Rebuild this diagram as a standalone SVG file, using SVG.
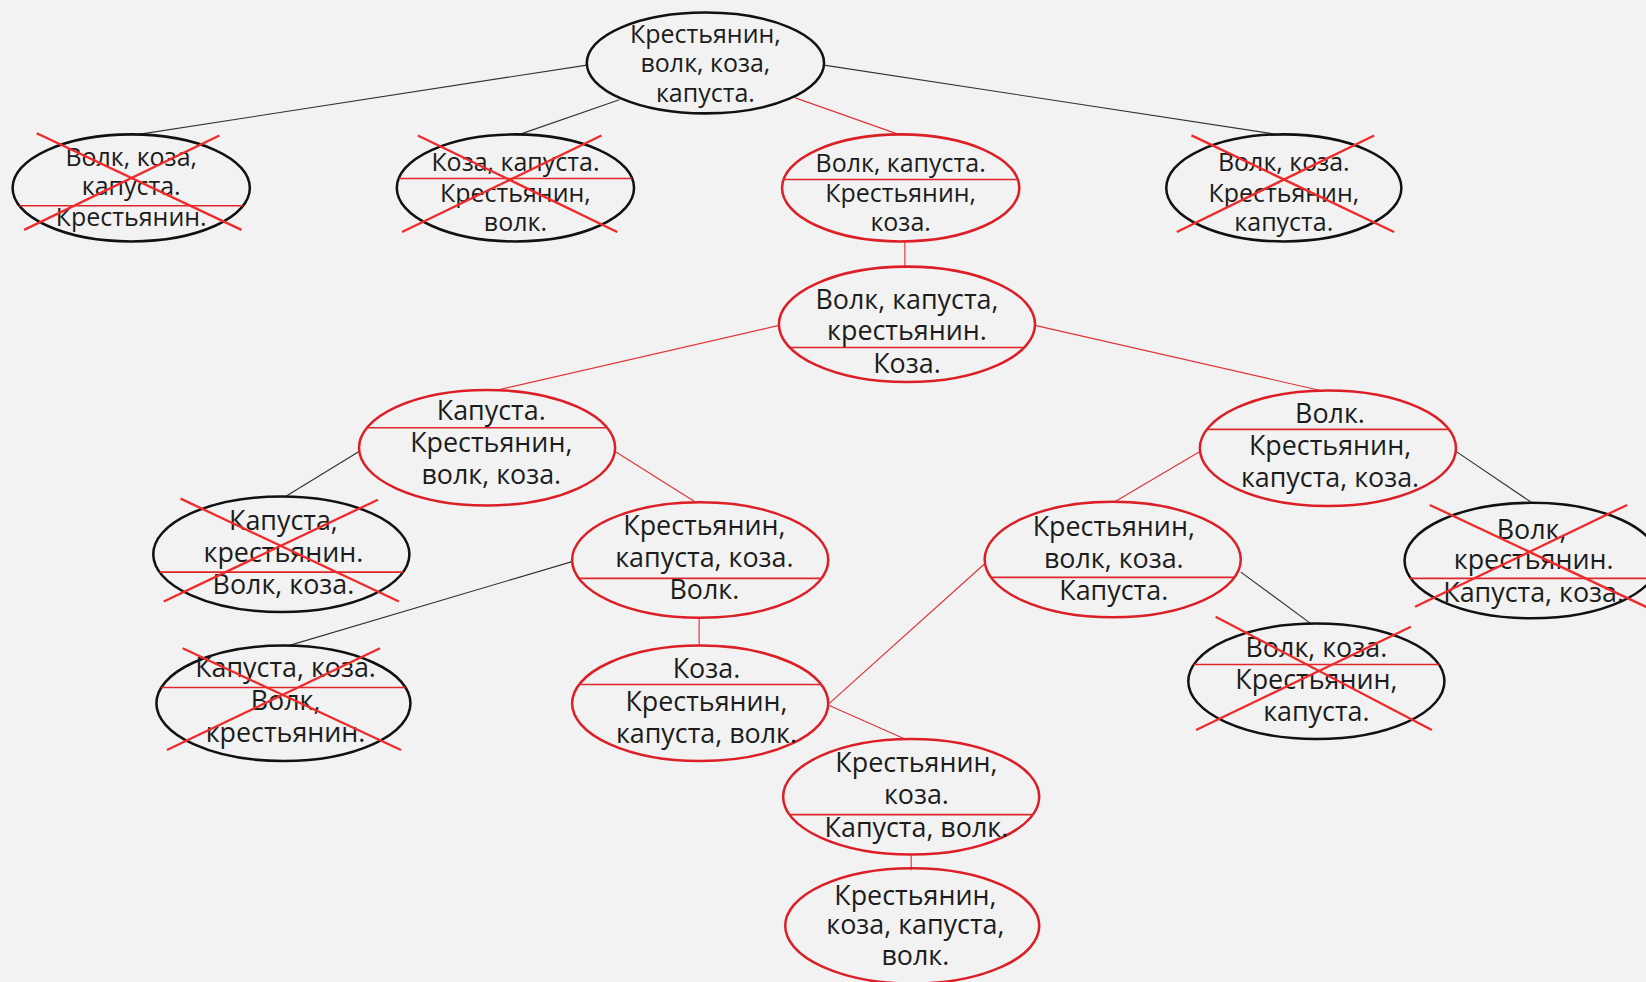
<svg xmlns="http://www.w3.org/2000/svg" width="1646" height="982" viewBox="0 0 1646 982">
<style>
.bg{fill:#f2f2f2}
.nb{fill:none;stroke:#111;stroke-width:2.4}
.nr{fill:none;stroke:#dc1f26;stroke-width:2.4}
.dv{stroke:#e0262b;stroke-width:1.5}
.x{stroke:#f02a2a;stroke-width:2.2}
.eb{stroke:#333;stroke-width:1.1;fill:none}
.er{stroke:#e0343a;stroke-width:1.1;fill:none}
text{font-family:"Open Sans","Noto Sans","DejaVu Sans",sans-serif;fill:#1c1c1c;text-anchor:middle}
.s{font-size:23.8px}
.m{font-size:25.6px}
</style>
<rect class="bg" x="0" y="0" width="1646" height="982"/>
<g transform="scale(1.04974)">
<g id="connectors">
<line class="eb" x1="559" y1="62" x2="132" y2="128"/>
<line class="eb" x1="590" y1="95" x2="495" y2="128"/>
<line class="er" x1="757" y1="93" x2="856" y2="128"/>
<line class="eb" x1="785" y1="62" x2="1216" y2="128"/>
<line class="er" x1="862" y1="230" x2="862" y2="254"/>
<line class="er" x1="742" y1="310" x2="472" y2="372"/>
<line class="er" x1="986" y1="310" x2="1258" y2="372"/>
<line class="eb" x1="342" y1="430" x2="272" y2="473"/>
<line class="er" x1="586" y1="430" x2="662" y2="478"/>
<line class="er" x1="1143" y1="430" x2="1062" y2="478"/>
<line class="eb" x1="1387" y1="430" x2="1458" y2="478"/>
<line class="eb" x1="545" y1="535" x2="275" y2="615"/>
<line class="er" x1="666" y1="588" x2="666" y2="615"/>
<line class="eb" x1="1182" y1="545" x2="1250" y2="595"/>
<line class="er" x1="938" y1="537" x2="790" y2="670"/>
<line class="er" x1="790" y1="672" x2="862" y2="704"/>
<line class="er" x1="868" y1="814" x2="868" y2="829"/>
</g>
<g id="root">
<ellipse class="nb" cx="672" cy="60" rx="113" ry="48"/>
<text class="s" x="672" y="41">Крестьянин,</text>
<text class="s" x="672" y="69">волк, коза,</text>
<text class="s" x="672" y="97">капуста.</text>
</g>
<g id="n-a">
<ellipse class="nb" cx="125" cy="179" rx="113" ry="51"/>
<line class="dv" x1="18.5" y1="196" x2="231.5" y2="196"/>
<text class="s" x="125" y="158">Волк, коза,</text>
<text class="s" x="125" y="186">капуста.</text>
<text class="s" x="125" y="215">Крестьянин.</text>
<line class="x" x1="35" y1="127" x2="230" y2="219"/>
<line class="x" x1="209" y1="129" x2="23" y2="219"/>
</g>
<g id="n-b">
<ellipse class="nb" cx="491" cy="179" rx="113" ry="51"/>
<line class="dv" x1="380" y1="170" x2="602" y2="170"/>
<text class="s" x="491" y="163">Коза, капуста.</text>
<text class="s" x="491" y="192">Крестьянин,</text>
<text class="s" x="491" y="220">волк.</text>
<line class="x" x1="398" y1="129" x2="588" y2="221"/>
<line class="x" x1="573" y1="129" x2="383" y2="221"/>
</g>
<g id="n-c">
<ellipse class="nr" cx="858" cy="179" rx="113" ry="51"/>
<line class="dv" x1="746.4" y1="171" x2="969.6" y2="171"/>
<text class="s" x="858" y="164">Волк, капуста.</text>
<text class="s" x="858" y="192">Крестьянин,</text>
<text class="s" x="858" y="220">коза.</text>
</g>
<g id="n-d">
<ellipse class="nb" cx="1223" cy="179" rx="112" ry="51"/>
<text class="s" x="1223" y="163">Волк, коза.</text>
<text class="s" x="1223" y="192">Крестьянин,</text>
<text class="s" x="1223" y="220">капуста.</text>
<line class="x" x1="1135" y1="129" x2="1328" y2="221"/>
<line class="x" x1="1309" y1="129" x2="1121" y2="221"/>
</g>
<g id="n-e">
<ellipse class="nr" cx="864" cy="309" rx="122" ry="55"/>
<line class="dv" x1="752" y1="331" x2="976" y2="331"/>
<text class="m" x="864" y="294">Волк, капуста,</text>
<text class="m" x="864" y="324">крестьянин.</text>
<text class="m" x="864" y="355">Коза.</text>
</g>
<g id="n-f">
<ellipse class="nr" cx="464" cy="426.5" rx="122" ry="55"/>
<line class="dv" x1="349.5" y1="407.5" x2="578.5" y2="407.5"/>
<text class="m" x="468" y="400">Капуста.</text>
<text class="m" x="468" y="431">Крестьянин,</text>
<text class="m" x="468" y="461">волк, коза.</text>
</g>
<g id="n-g">
<ellipse class="nr" cx="1265" cy="427" rx="122" ry="55"/>
<line class="dv" x1="1149.7" y1="409" x2="1380.3" y2="409"/>
<text class="m" x="1267" y="403">Волк.</text>
<text class="m" x="1267" y="433">Крестьянин,</text>
<text class="m" x="1267" y="464">капуста, коза.</text>
</g>
<g id="n-h">
<ellipse class="nb" cx="268" cy="528" rx="122" ry="55"/>
<line class="dv" x1="152" y1="545" x2="384" y2="545"/>
<text class="m" x="270" y="505">Капуста,</text>
<text class="m" x="270" y="535">крестьянин.</text>
<text class="m" x="270" y="566">Волк, коза.</text>
<line class="x" x1="172" y1="475" x2="380" y2="573"/>
<line class="x" x1="360" y1="476" x2="156" y2="573"/>
</g>
<g id="n-i">
<ellipse class="nr" cx="667" cy="533.5" rx="122" ry="55"/>
<line class="dv" x1="551" y1="551" x2="783" y2="551"/>
<text class="m" x="671" y="510">Крестьянин,</text>
<text class="m" x="671" y="540">капуста, коза.</text>
<text class="m" x="671" y="571">Волк.</text>
</g>
<g id="n-j">
<ellipse class="nr" cx="1060" cy="533" rx="122" ry="55"/>
<line class="dv" x1="944" y1="550" x2="1176" y2="550"/>
<text class="m" x="1061" y="511">Крестьянин,</text>
<text class="m" x="1061" y="541">волк, коза.</text>
<text class="m" x="1061" y="572">Капуста.</text>
</g>
<g id="n-k">
<ellipse class="nb" cx="1459" cy="534" rx="121" ry="55"/>
<line class="dv" x1="1343" y1="551" x2="1575" y2="551"/>
<text class="m" x="1459" y="513">Волк,</text>
<text class="m" x="1461" y="542">крестьянин.</text>
<text class="m" x="1461" y="573">Капуста, коза.</text>
<line class="x" x1="1362" y1="481" x2="1572" y2="580"/>
<line class="x" x1="1550" y1="481" x2="1348" y2="578"/>
</g>
<g id="n-l">
<ellipse class="nb" cx="270" cy="670" rx="121" ry="55"/>
<line class="dv" x1="153.6" y1="655" x2="386.4" y2="655"/>
<text class="m" x="272" y="645">Капуста, коза.</text>
<text class="m" x="272" y="676">Волк,</text>
<text class="m" x="272" y="707">крестьянин.</text>
<line class="x" x1="174" y1="617.6" x2="382" y2="714.5"/>
<line class="x" x1="362" y1="617.6" x2="159" y2="714.5"/>
</g>
<g id="n-m">
<ellipse class="nr" cx="667" cy="670" rx="122" ry="55"/>
<line class="dv" x1="551.7" y1="652" x2="782.3" y2="652"/>
<text class="m" x="673" y="646">Коза.</text>
<text class="m" x="673" y="677">Крестьянин,</text>
<text class="m" x="673" y="708">капуста, волк.</text>
</g>
<g id="n-n">
<ellipse class="nb" cx="1254" cy="649" rx="122" ry="55"/>
<line class="dv" x1="1137" y1="633" x2="1371" y2="633"/>
<text class="m" x="1254" y="626">Волк, коза.</text>
<text class="m" x="1254" y="656">Крестьянин,</text>
<text class="m" x="1254" y="687">капуста.</text>
<line class="x" x1="1158" y1="587.5" x2="1364" y2="695.4"/>
<line class="x" x1="1344" y1="597" x2="1139.4" y2="695.4"/>
</g>
<g id="n-o">
<ellipse class="nr" cx="868" cy="759" rx="122" ry="55"/>
<line class="dv" x1="752" y1="776" x2="984" y2="776"/>
<text class="m" x="873" y="735">Крестьянин,</text>
<text class="m" x="873" y="766">коза.</text>
<text class="m" x="873" y="797">Капуста, волк.</text>
</g>
<g id="n-p">
<ellipse class="nr" cx="869" cy="882" rx="121" ry="55"/>
<text class="m" x="872" y="862">Крестьянин,</text>
<text class="m" x="872" y="890">коза, капуста,</text>
<text class="m" x="872" y="919">волк.</text>
</g>
</g>
</svg>
